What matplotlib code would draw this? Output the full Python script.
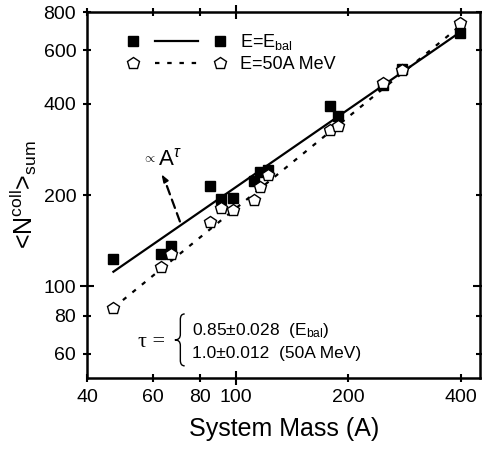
import numpy as np
import matplotlib
matplotlib.use('Agg')
import matplotlib.pyplot as plt
from matplotlib.lines import Line2D
from matplotlib.legend_handler import HandlerBase
from matplotlib.path import Path
from matplotlib.patches import PathPatch
from matplotlib.ticker import FixedLocator, FixedFormatter

plt.rcParams['font.family'] = ['Liberation Sans', 'DejaVu Sans']
plt.rcParams['mathtext.fontset'] = 'custom'
plt.rcParams['mathtext.rm'] = 'Liberation Sans'
plt.rcParams['mathtext.it'] = 'Liberation Sans:italic'

# system masses and summed collision numbers
mass = [47, 63, 67, 85, 91, 98, 112, 116, 122, 179, 187, 248, 279, 397]
nsum_bal = [123, 128, 136, 214, 194, 196, 222, 239, 242, 394, 365, 462, 520, 684]
nsum_50 = [85, 116, 128, 163, 181, 178, 192, 213, 232, 327, 338, 468, 515, 737]

# power law fits  N = amp * A^tau
tau_bal, dtau_bal, amp_bal = 0.85, 0.028, 4.24
tau_50, dtau_50, amp_50 = 1.0, 0.012, 1.81

xticks_major = [100]
xticks_minor = [40, 60, 80, 200, 400]
yticks_major = [100]
yticks_minor = [60, 80, 200, 400, 600, 800]


class MarkerLineMarker(HandlerBase):
    # legend entry drawn as  marker --- line --- marker
    def create_artists(self, legend, orig_handle, xdescent, ydescent,
                       width, height, fontsize, trans):
        mk, ln = orig_handle
        y = height / 2 - ydescent
        x0, x1 = -xdescent, width - xdescent
        gap = 0.28 * width
        arts = []
        for xm in (x0 + 0.05 * width, x1 - 0.05 * width):
            m = Line2D([xm], [y], linestyle='none')
            m.update_from(mk)
            m.set_xdata([xm]); m.set_ydata([y])
            m.set_transform(trans)
            arts.append(m)
        l = Line2D([x0 + gap, x1 - gap], [y, y])
        l.update_from(ln)
        l.set_xdata([x0 + gap, x1 - gap]); l.set_ydata([y, y])
        l.set_marker('None')
        l.set_transform(trans)
        arts.append(l)
        return arts


fig = plt.figure(figsize=(4.82, 4.51), dpi=100)
ax = fig.add_axes([0.181, 0.162, 0.815, 0.811])
ax.set_xscale('log')
ax.set_yscale('log')

a = np.array(mass, dtype=float)
fit_x = np.array([a.min(), a.max()])
ax.plot(fit_x, amp_bal * fit_x ** tau_bal, '-', color='black', lw=1.6, zorder=2)
ax.plot(fit_x, amp_50 * fit_x ** tau_50, color='black', lw=1.6,
        linestyle=(0, (2, 3.5)), zorder=2)

ax.plot(mass, nsum_bal, 's', color='black', ms=7.5, zorder=3)
ax.plot(mass, nsum_50, 'p', mfc='white', mec='black', mew=1.0, ms=9, zorder=4)

ax.set_xlim(40, 450)
ax.set_ylim(50, 800)

ax.xaxis.set_major_locator(FixedLocator(xticks_major))
ax.xaxis.set_minor_locator(FixedLocator(xticks_minor))
ax.xaxis.set_major_formatter(FixedFormatter([str(v) for v in xticks_major]))
ax.xaxis.set_minor_formatter(FixedFormatter([str(v) for v in xticks_minor]))
ax.yaxis.set_major_locator(FixedLocator(yticks_major))
ax.yaxis.set_minor_locator(FixedLocator(yticks_minor))
ax.yaxis.set_major_formatter(FixedFormatter([str(v) for v in yticks_major]))
ax.yaxis.set_minor_formatter(FixedFormatter([str(v) for v in yticks_minor]))

ax.tick_params(which='both', direction='inout', top=True, right=True,
               labelsize=14, width=1.5)
ax.tick_params(which='major', length=10, pad=3)
ax.tick_params(which='minor', length=6, pad=5)
for s in ax.spines.values():
    s.set_linewidth(1.8)

ax.set_xlabel('System Mass (A)', fontsize=18, labelpad=8)
ax.set_ylabel(r'<N$^{\mathrm{coll}}$>$_{\mathrm{sum}}$', fontsize=18, labelpad=3)

# legend
mk_bal = Line2D([], [], marker='s', color='black', ms=7.5, linestyle='none')
ln_bal = Line2D([], [], color='black', lw=1.6)
mk_50 = Line2D([], [], marker='p', mfc='white', mec='black', mew=1.0, ms=9,
               linestyle='none')
ln_50 = Line2D([], [], color='black', lw=1.6, linestyle=(0, (2, 3.5)))
ax.legend([(mk_bal, ln_bal), (mk_50, ln_50)],
          ['E=E$_{\\mathrm{bal}}$', 'E=50A MeV'],
          handler_map={tuple: MarkerLineMarker()},
          loc='upper left', bbox_to_anchor=(0.103, 0.946), frameon=False,
          fontsize=13, handlelength=5.4, handletextpad=0.8,
          labelspacing=0.22, borderaxespad=0, borderpad=0)

# power law annotation
ax.annotate('', xy=(64.3, 226), xytext=(70.8, 163.7),
            arrowprops=dict(arrowstyle='-', color='black', lw=1.6,
                            linestyle=(0, (4, 2.5)), shrinkA=0, shrinkB=0))
ax.annotate('', xy=(63.2, 234), xytext=(64.3, 226),
            arrowprops=dict(arrowstyle='-|>,head_length=0.45,head_width=0.16',
                            color='black', lw=1.2, shrinkA=0, shrinkB=0))
ax.text(60.9, 262, r'$\propto$', fontsize=9.5, ha='right', va='center')
ax.text(61.8, 263, r'A$^{\tau}$', fontsize=16, ha='left', va='center')

# tau values with brace
ax.text(0.164, 0.098, '\u03c4 =', transform=ax.transAxes, fontsize=16,
        family=['Liberation Serif', 'DejaVu Serif'], ha='center', va='center')
xr, xc, xl = 0.248, 0.237, 0.223
yt, ym, yb = 0.175, 0.104, 0.033
r = 0.015
verts = [(xr, yt), (xc, yt), (xc, yt - r), (xc, yt - r),
         (xc, ym + r), (xc, ym), (xl, ym),
         (xc, ym), (xc, ym - r), (xc, ym - r),
         (xc, yb + r), (xc, yb), (xr, yb)]
codes = [Path.MOVETO, Path.CURVE3, Path.CURVE3, Path.LINETO,
         Path.LINETO, Path.CURVE3, Path.CURVE3,
         Path.CURVE3, Path.CURVE3, Path.LINETO,
         Path.LINETO, Path.CURVE3, Path.CURVE3]
ax.add_patch(PathPatch(Path(verts, codes), fill=False, lw=1.0, color='black',
                       transform=ax.transAxes))
ax.text(0.266, 0.131, f'{tau_bal:.2f}\u00b1{dtau_bal:.3f}  (E$_{{\\mathrm{{bal}}}}$)',
        transform=ax.transAxes, fontsize=12.5, ha='left', va='center')
ax.text(0.266, 0.066, f'{tau_50:.1f}\u00b1{dtau_50:.3f}  (50A MeV)',
        transform=ax.transAxes, fontsize=12.5, ha='left', va='center')

fig.savefig('out.png', dpi=100)
